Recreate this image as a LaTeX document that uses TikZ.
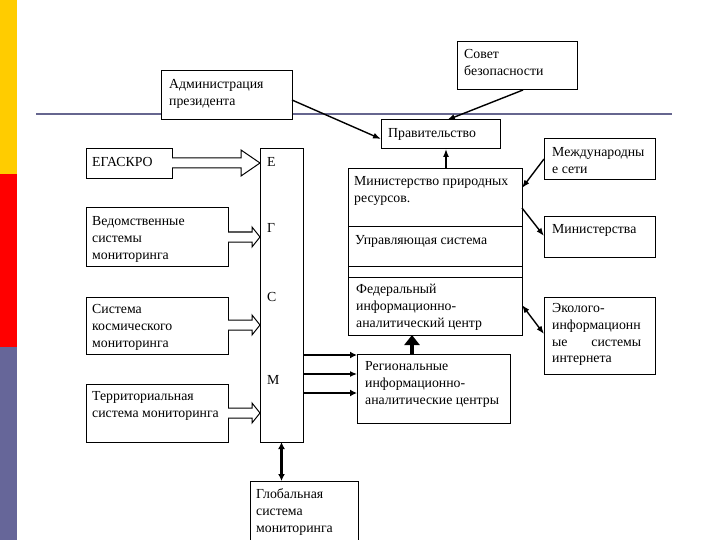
\documentclass[tikz,border=0pt]{standalone}
\usepackage{fontspec}
\setmainfont{Liberation Serif}
\usetikzlibrary{calc,arrows.meta}
\definecolor{barY}{HTML}{FFCC00}
\definecolor{barR}{HTML}{FF0000}
\definecolor{barB}{HTML}{666699}
\definecolor{rulec}{HTML}{66668F}
\newcommand\mkbox[5]{\node[box,minimum width={(#4-#2)*1pt},minimum height={(#5-#3)*1pt}] (#1) at (#2,#3) {};}
\newcommand\mklbl[3]{\node[lbl] (#1t) at ($(#1.north west)+(#2)$) {\strut#3};}
\newcommand\harrow[6]{\draw[hol] let \p1=(#1.east), \p2=(#2.west), \p3=(0,#3) in
  (\x1,\y3+#6pt) -- (\x2-#4pt,\y3+#6pt) -- (\x2-#4pt,\y3+#5pt) -- (\x2,\y3)
  -- (\x2-#4pt,\y3-#5pt) -- (\x2-#4pt,\y3-#6pt) -- (\x1,\y3-#6pt);}
\begin{document}
\begin{tikzpicture}[x=1pt,y=-1pt,
  box/.style={draw,line width=1pt,fill=white,inner sep=0pt,outer sep=0pt,anchor=north west},
  lbl/.style={anchor=north west,inner sep=0pt,align=left,font=\fontsize{13.8}{16.8}\selectfont},
  letter/.style={anchor=base west,inner sep=0pt,font=\fontsize{13.8}{16.8}\selectfont},
  hol/.style={draw,line width=1pt,fill=white,line join=miter},
  conn/.style={line width=1.4pt,-{Latex[length=8pt,width=6pt]}},
  both/.style={line width=1.4pt,{Latex[length=8pt,width=6pt]}-{Latex[length=8pt,width=6pt]}},
  thickc/.style={line width=2.6pt,-{Latex[length=7pt,width=7pt]}},
  thinc/.style={line width=1.2pt,-{Latex[length=7pt,width=6pt]}}]
\useasboundingbox (0,0) rectangle (720,540);
\clip (0,0) rectangle (720,540);
\fill[white] (0,0) rectangle (720,540);
% side bar
\fill[barY] (0,0) rectangle (17,174);
\fill[barR] (0,174) rectangle (17,347);
\fill[barB] (0,347) rectangle (17,540);
% rule
\draw[rulec,line width=2pt] (36,114) -- (672,114);
% boxes
\mkbox{adm}{161}{71}{292}{120}
\mkbox{sov}{457}{42}{577}{90}
\mkbox{prav}{381}{120}{500}{149}
\mkbox{mezh}{544}{139}{655}{180}
\mkbox{mins}{544}{217}{655}{257}
\mkbox{eko}{544}{297}{655}{374}
\mkbox{mpr}{348}{169}{522}{227}
\mkbox{upr}{348}{227}{522}{266}
\mkbox{gap}{348}{266}{522}{277}
\mkbox{fed}{348}{277}{522}{335}
\mkbox{reg}{357}{354}{510}{423}
\mkbox{vbox}{260}{149}{303}{442}
\mkbox{egas}{86}{149}{172}{179}
\mkbox{ved}{86}{208}{228}{266}
\mkbox{kosm}{86}{297}{228}{354}
\mkbox{terr}{86}{384}{228}{442}
\mkbox{glob}{250}{481}{358}{550}
% labels
\mklbl{adm}{8,5.5}{Администрация\\президента}
\mklbl{sov}{7,4.5}{Совет\\безопасности}
\mklbl{prav}{7,5.5}{Правительство}
\mklbl{mezh}{8,6}{Международны\\е сети}
\mklbl{mins}{8,4.5}{Министерства}
\mklbl{eko}{8,3.5}{Эколого-\\информационн\\\hbox to 89pt{ые\hfill системы}\\интернета}
\mklbl{mpr}{6,4.5}{Министерство природных\\ресурсов.}
\mklbl{upr}{7,6}{Управляющая система}
\mklbl{fed}{8,4.5}{Федеральный\\информационно-\\аналитический центр}
\mklbl{reg}{8,4.5}{Региональные\\информационно-\\аналитические центры}
\mklbl{egas}{6,6}{ЕГАСКРО}
\mklbl{ved}{6,6}{Ведомственные\\системы\\мониторинга}
\mklbl{kosm}{6,4.5}{Система\\космического\\мониторинга}
\mklbl{terr}{6,4.5}{Территориальная\\система мониторинга}
\mklbl{glob}{6,5.5}{Глобальная\\система\\мониторинга}
\node[letter] (lE) at ($(vbox.north west)+(7,18)$) {Е};
\node[letter] (lG) at ($(vbox.north west)+(7,84)$) {Г};
\node[letter] (lS) at ($(vbox.north west)+(7,152)$) {С};
\node[letter] (lM) at ($(vbox.north west)+(7,235)$) {М};
% hollow arrows
\harrow{egas}{vbox}{163}{19}{13}{5}
\harrow{ved}{vbox}{237}{8}{10}{5}
\harrow{kosm}{vbox}{325}{8}{10}{5}
\harrow{terr}{vbox}{413}{8}{10}{5}
% connectors
\draw[conn] (adm.east |- 0,100) -- (prav.west |- 0,139);
\draw[conn] (sov.south -| 523,0) -- (prav.north -| 447,0);
\draw[conn] (mpr.north -| 446,0) -- (prav.south -| 446,0);
\draw[conn] (mezh.west |- 0,159) -- (mpr.east |- 0,188);
\draw[conn] (mpr.east |- 0,208) -- (mins.west |- 0,236);
\draw[both] (fed.east |- 0,305) -- (eko.west |- 0,334);
\draw[line width=4.5pt,-{Triangle[length=10pt,width=15pt]}] (reg.north -| 412,0) -- (fed.south -| 412,0);
\draw[thickc] (vbox.east |- 0,355) -- (reg.west |- 0,355);
\draw[thinc] (vbox.east |- 0,374) -- (reg.west |- 0,374);
\draw[thickc] (vbox.east |- 0,393) -- (reg.west |- 0,393);
\draw[line width=2.6pt,{Latex[length=7pt,width=7pt]}-{Latex[length=7pt,width=7pt]}] (vbox.south) -- (glob.north -| vbox.south);
\end{tikzpicture}
\end{document}
